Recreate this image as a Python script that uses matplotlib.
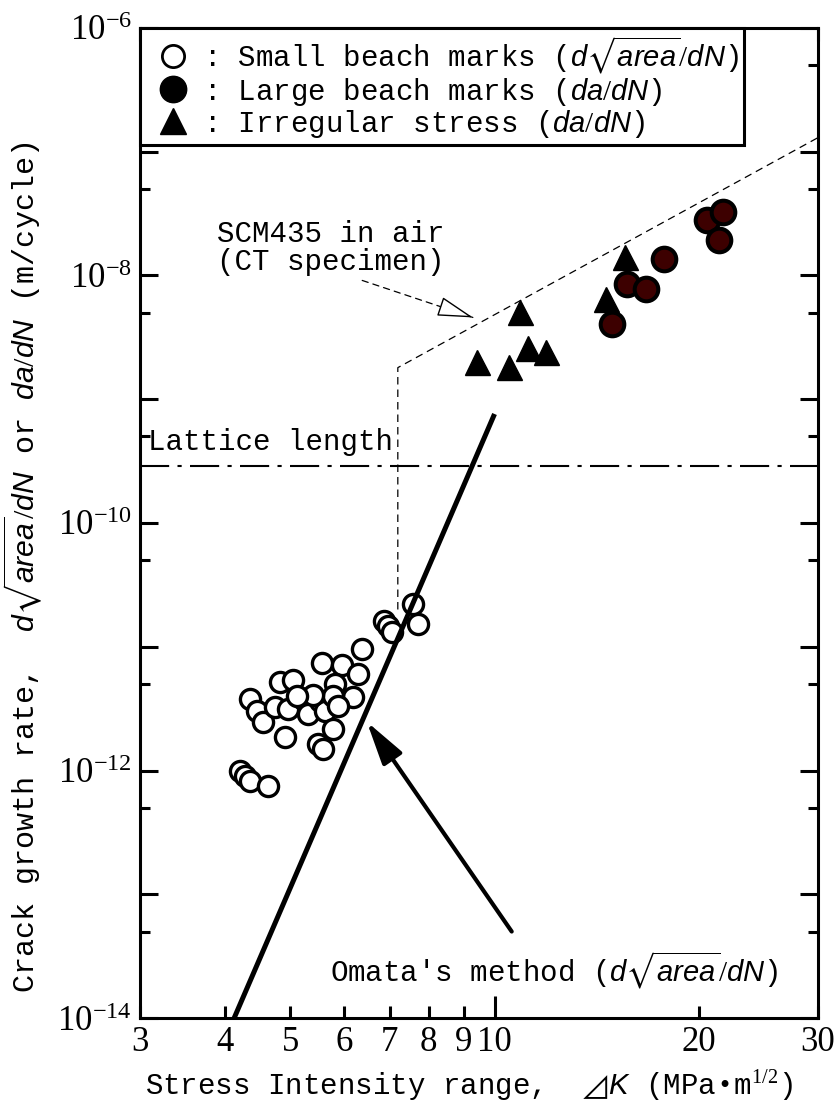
import numpy as np
import matplotlib
matplotlib.use('Agg')
import matplotlib.pyplot as plt
from matplotlib.lines import Line2D
from matplotlib.ticker import FixedLocator, FuncFormatter, NullFormatter

plt.rcParams['font.family'] = 'Liberation Serif'
plt.rcParams['mathtext.fontset'] = 'custom'
plt.rcParams['mathtext.rm'] = 'Liberation Serif'
plt.rcParams['mathtext.it'] = 'Liberation Sans:italic'
plt.rcParams['mathtext.bf'] = 'Liberation Serif:bold'
plt.rcParams['mathtext.fallback'] = 'stix'

TXT = ['Liberation Mono', 'Noto Sans CJK JP', 'DejaVu Sans']
FS = 21

# small beach marks, d(sqrt area)/dN
small_dk = [7.58, 7.71, 6.87, 6.96, 7.06, 6.38, 5.57, 5.96, 6.29, 5.82, 6.19,
            4.83, 5.04, 4.36, 4.46, 4.55, 4.75, 4.96, 5.22, 5.31, 5.53, 5.62,
            5.78, 5.88, 5.78, 4.91, 5.49, 5.59, 4.21, 4.28, 4.36, 4.64, 5.40, 5.11]
small_rate = [2.22e-11, 1.53e-11, 1.62e-11, 1.48e-11, 1.32e-11, 9.6e-12,
              7.43e-12, 7.16e-12, 6.05e-12, 5.03e-12, 3.95e-12, 5.22e-12,
              5.42e-12, 3.81e-12, 3.05e-12, 2.48e-12, 3.28e-12, 3.16e-12,
              3.81e-12, 2.88e-12, 3.67e-12, 3.05e-12, 4.03e-12, 3.34e-12,
              2.18e-12, 1.88e-12, 1.65e-12, 1.50e-12, 1.0e-12, 9.1e-13,
              8.3e-13, 7.43e-13, 4.10e-12, 4.03e-12]

# large beach marks, da/dN
large_dk = [14.9, 15.7, 16.7, 17.8, 20.6, 21.7, 21.4]
large_rate = [4.03e-9, 8.46e-9, 7.71e-9, 1.37e-8, 2.83e-8, 3.28e-8, 1.95e-8]

# irregular stress, da/dN
irr_dk = [10.9, 15.6, 14.6, 9.42, 10.5, 11.2, 11.9]
irr_rate = [5.03e-9, 1.40e-8, 6.4e-9, 1.99e-9, 1.81e-9, 2.58e-9, 2.39e-9]

# SCM435 in air (CT specimen)
air_dk = [7.2, 7.2, 30.0]
air_rate = [2.0e-11, 1.8e-9, 1.3e-7]

# Omata's method
omata_dk = [4.13, 10.0]
omata_rate = [1.0e-14, 7.6e-10]

lattice = 2.9e-10

x_major = [10]
x_minor = [3, 4, 5, 6, 7, 8, 9, 20, 30]
y_exp = list(range(-14, -5))

fig = plt.figure(figsize=(8.36, 11.05), dpi=100)
ax = fig.add_axes([0.1675, 0.0787, 0.811, 0.896])
ax.set_xscale('log')
ax.set_yscale('log')
ax.set_xlim(3, 30)
ax.set_ylim(1e-14, 1e-6)

ax.plot(small_dk, small_rate, ls='none', marker='o', ms=14.5, mfc='white',
        mec='black', mew=2.4, zorder=2)
ax.plot(large_dk, large_rate, ls='none', marker='o', ms=17, mfc='#3d0000',
        mec='black', mew=2.9, zorder=2)
ax.plot(irr_dk, irr_rate, ls='none', marker='^', ms=18, color='black', zorder=2)

ax.plot(omata_dk, omata_rate, color='black', lw=3.6, solid_capstyle='butt', zorder=3)
ax.plot(air_dk, air_rate, color='black', lw=0.9, ls=(0, (6, 4)), zorder=3)
ax.axhline(lattice, color='black', lw=1.5, ls=(0, (14, 4, 2, 4)), zorder=3)

# arrows
ax.annotate('', xy=(6.48, 2.48e-12), xytext=(10.6, 5.0e-14),
            arrowprops=dict(arrowstyle='-|>,head_length=1.2,head_width=0.32',
                            lw=3, color='black', mutation_scale=22,
                            shrinkA=0, shrinkB=0))
ax.annotate('', xy=(9.29, 4.58e-9), xytext=(6.38, 9.12e-9),
            arrowprops=dict(arrowstyle='-', ls=(0, (5, 4)), lw=0.9,
                            color='black', shrinkA=0, shrinkB=0))
ax.annotate('', xy=(9.29, 4.58e-9), xytext=(-17, 5.7), textcoords='offset points',
            arrowprops=dict(arrowstyle='-|>,head_length=0.9,head_width=0.25',
                            fc='white', ec='black', lw=1, mutation_scale=25,
                            shrinkA=0, shrinkB=0))

ax.text(3.9, 1.68e-8, 'SCM435 in air\n(CT specimen)', family=TXT, size=FS,
        ha='left', va='center', linespacing=1.0)
ax.text(3.08, 4.5e-10, 'Lattice length', family=TXT, size=FS, ha='left', va='center')
ax.text(5.72, 2.44e-14, "Omata's method ($d\\sqrt{area}/dN$)", family=TXT, size=FS,
        ha='left', va='center')

# axes, ticks
for s in ax.spines.values():
    s.set_linewidth(2.2)

ax.xaxis.set_major_locator(FixedLocator(x_major))
ax.xaxis.set_minor_locator(FixedLocator(x_minor))
ax.xaxis.set_major_formatter(FuncFormatter(lambda v, p: '%d' % round(v)))
ax.xaxis.set_minor_formatter(FuncFormatter(lambda v, p: '%d' % round(v)))

ax.yaxis.set_major_locator(FixedLocator([10.0 ** e for e in y_exp]))
ax.yaxis.set_minor_locator(FixedLocator([5 * 10.0 ** e for e in y_exp[:-1]]))


def ylab(v, p):
    e = int(round(np.log10(v)))
    if e % 2:
        return ''
    return r'$\mathregular{10^{%d}}$' % e


ax.yaxis.set_major_formatter(FuncFormatter(ylab))
ax.yaxis.set_minor_formatter(NullFormatter())

ax.tick_params(which='both', direction='in', top=True, right=True, width=2.2,
               labelsize=25)
ax.tick_params(axis='x', which='major', length=16, pad=6)
ax.tick_params(axis='x', which='minor', length=9, pad=6)
ax.tick_params(axis='y', which='major', length=13, pad=6)
ax.tick_params(axis='y', which='minor', length=7)

ax.set_xlabel('Stress Intensity range,  $\u22bfK$ (MPa$\\,\u2022\\,$m$^{1/2}$)',
              family=TXT, size=FS)
ax.set_ylabel('Crack growth rate,  $d\\sqrt{area}/dN$ or $da/dN$ (m/cycle)',
              family=TXT, size=21.7)
ax.xaxis.set_label_coords(0.485, -0.05)
ax.yaxis.set_label_coords(-0.14, 0.455)

# legend
handles = [
    Line2D([], [], ls='none', marker='o', ms=16, mfc='white', mec='black', mew=2),
    Line2D([], [], ls='none', marker='o', ms=19, mfc='black', mec='black'),
    Line2D([], [], ls='none', marker='^', ms=19, color='black'),
]
labels = [
    ': Small beach marks ($d\\sqrt{area}/dN$)',
    ': Large beach marks ($da/dN$)',
    ': Irregular stress ($da/dN$)',
]
leg = ax.legend(handles, labels, loc='upper left', borderaxespad=0,
                fancybox=False, edgecolor='black', framealpha=1,
                prop=dict(family=TXT, size=FS), handlelength=1.85,
                handletextpad=0.1, labelspacing=0.0, borderpad=0.2)
leg.get_frame().set_linewidth(2.2)
leg.set_zorder(5)

fig.savefig('out.png', dpi=100)
